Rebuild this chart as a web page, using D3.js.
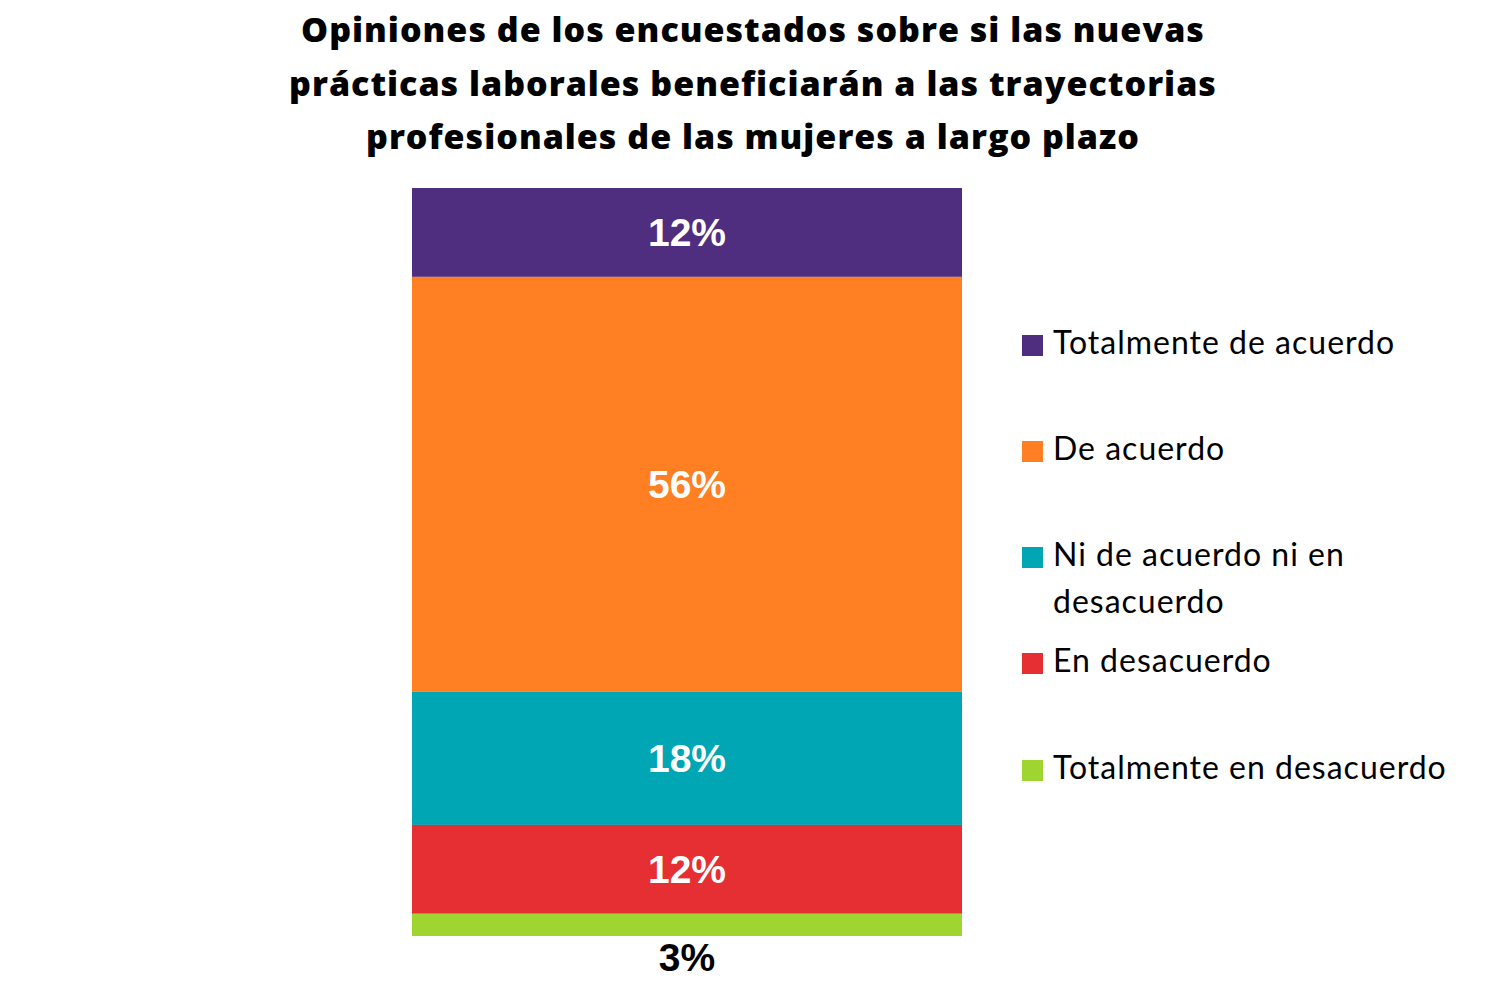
<!DOCTYPE html>
<html><head><meta charset="utf-8">
<script src="https://cdn.jsdelivr.net/npm/d3@7"></script>
<style>body{margin:0;background:#fff}</style>
</head><body>
<svg id="c" width="1495" height="989"></svg>
<script>
const titleLines = ["Opiniones de los encuestados sobre si las nuevas","prácticas laborales beneficiarán a las trayectorias","profesionales de las mujeres a largo plazo"];
const categories = ["Totalmente de acuerdo","De acuerdo","Ni de acuerdo ni en desacuerdo","En desacuerdo","Totalmente en desacuerdo"];
const legendLines = [["Totalmente de acuerdo"],["De acuerdo"],["Ni de acuerdo ni en","desacuerdo"],["En desacuerdo"],["Totalmente en desacuerdo"]];
const values = [12,56,18,12,3];
const colors = ["#4F2D7F","#FF7F22","#00A6B4","#E62F33","#9ED531"];

const svg = d3.select("#c");
svg.append("g").selectAll("text").data(titleLines).join("text")
  .attr("x",753).attr("y",(d,i)=>42+i*53.5).attr("text-anchor","middle")
  .attr("font-family","Open Sans").attr("font-weight",800).attr("font-size",34)
  .attr("letter-spacing",1).attr("fill","#000")
  .text(d=>d);

const total = d3.sum(values);
const y = d3.scaleLinear().domain([0,total]).range([188,936]);
const x = d3.scaleBand().domain(["all"]).range([412,962]).padding(0);
let cum = 0;
const segs = values.map((v,i)=>{const s={v,i,y0:cum,y1:cum+v};cum+=v;return s;});

svg.append("g").selectAll("rect").data(segs).join("rect")
  .attr("x",x("all")).attr("width",x.bandwidth())
  .attr("y",d=>y(d.y0)).attr("height",d=>y(d.y1)-y(d.y0))
  .attr("fill",d=>colors[d.i]);

svg.append("g").selectAll("text").data(segs).join("text")
  .attr("x",x("all")+x.bandwidth()/2)
  .attr("y",d=> d.v<5 ? y(d.y1)+35 : (y(d.y0)+y(d.y1))/2+14)
  .attr("text-anchor","middle")
  .attr("font-family","Liberation Sans, Arial").attr("font-weight",700).attr("font-size",39)
  .attr("fill",d=>d.v<5?"#000":"#fff")
  .text(d=>d.v+"%");

const lg = svg.append("g");
const rowY = [356,462,568,674,781];
categories.forEach((c,i)=>{
  lg.append("rect").attr("x",1022).attr("y",rowY[i]-21).attr("width",21).attr("height",21).attr("fill",colors[i]);
  legendLines[i].forEach((t,j)=>{
    lg.append("text").attr("x",1053).attr("y",rowY[i]-2+j*47)
      .attr("font-family","Lato").attr("font-weight",400).attr("font-size",32).attr("fill","#000")
      .attr("letter-spacing",1).text(t);
  });
});
</script>
</body></html>
